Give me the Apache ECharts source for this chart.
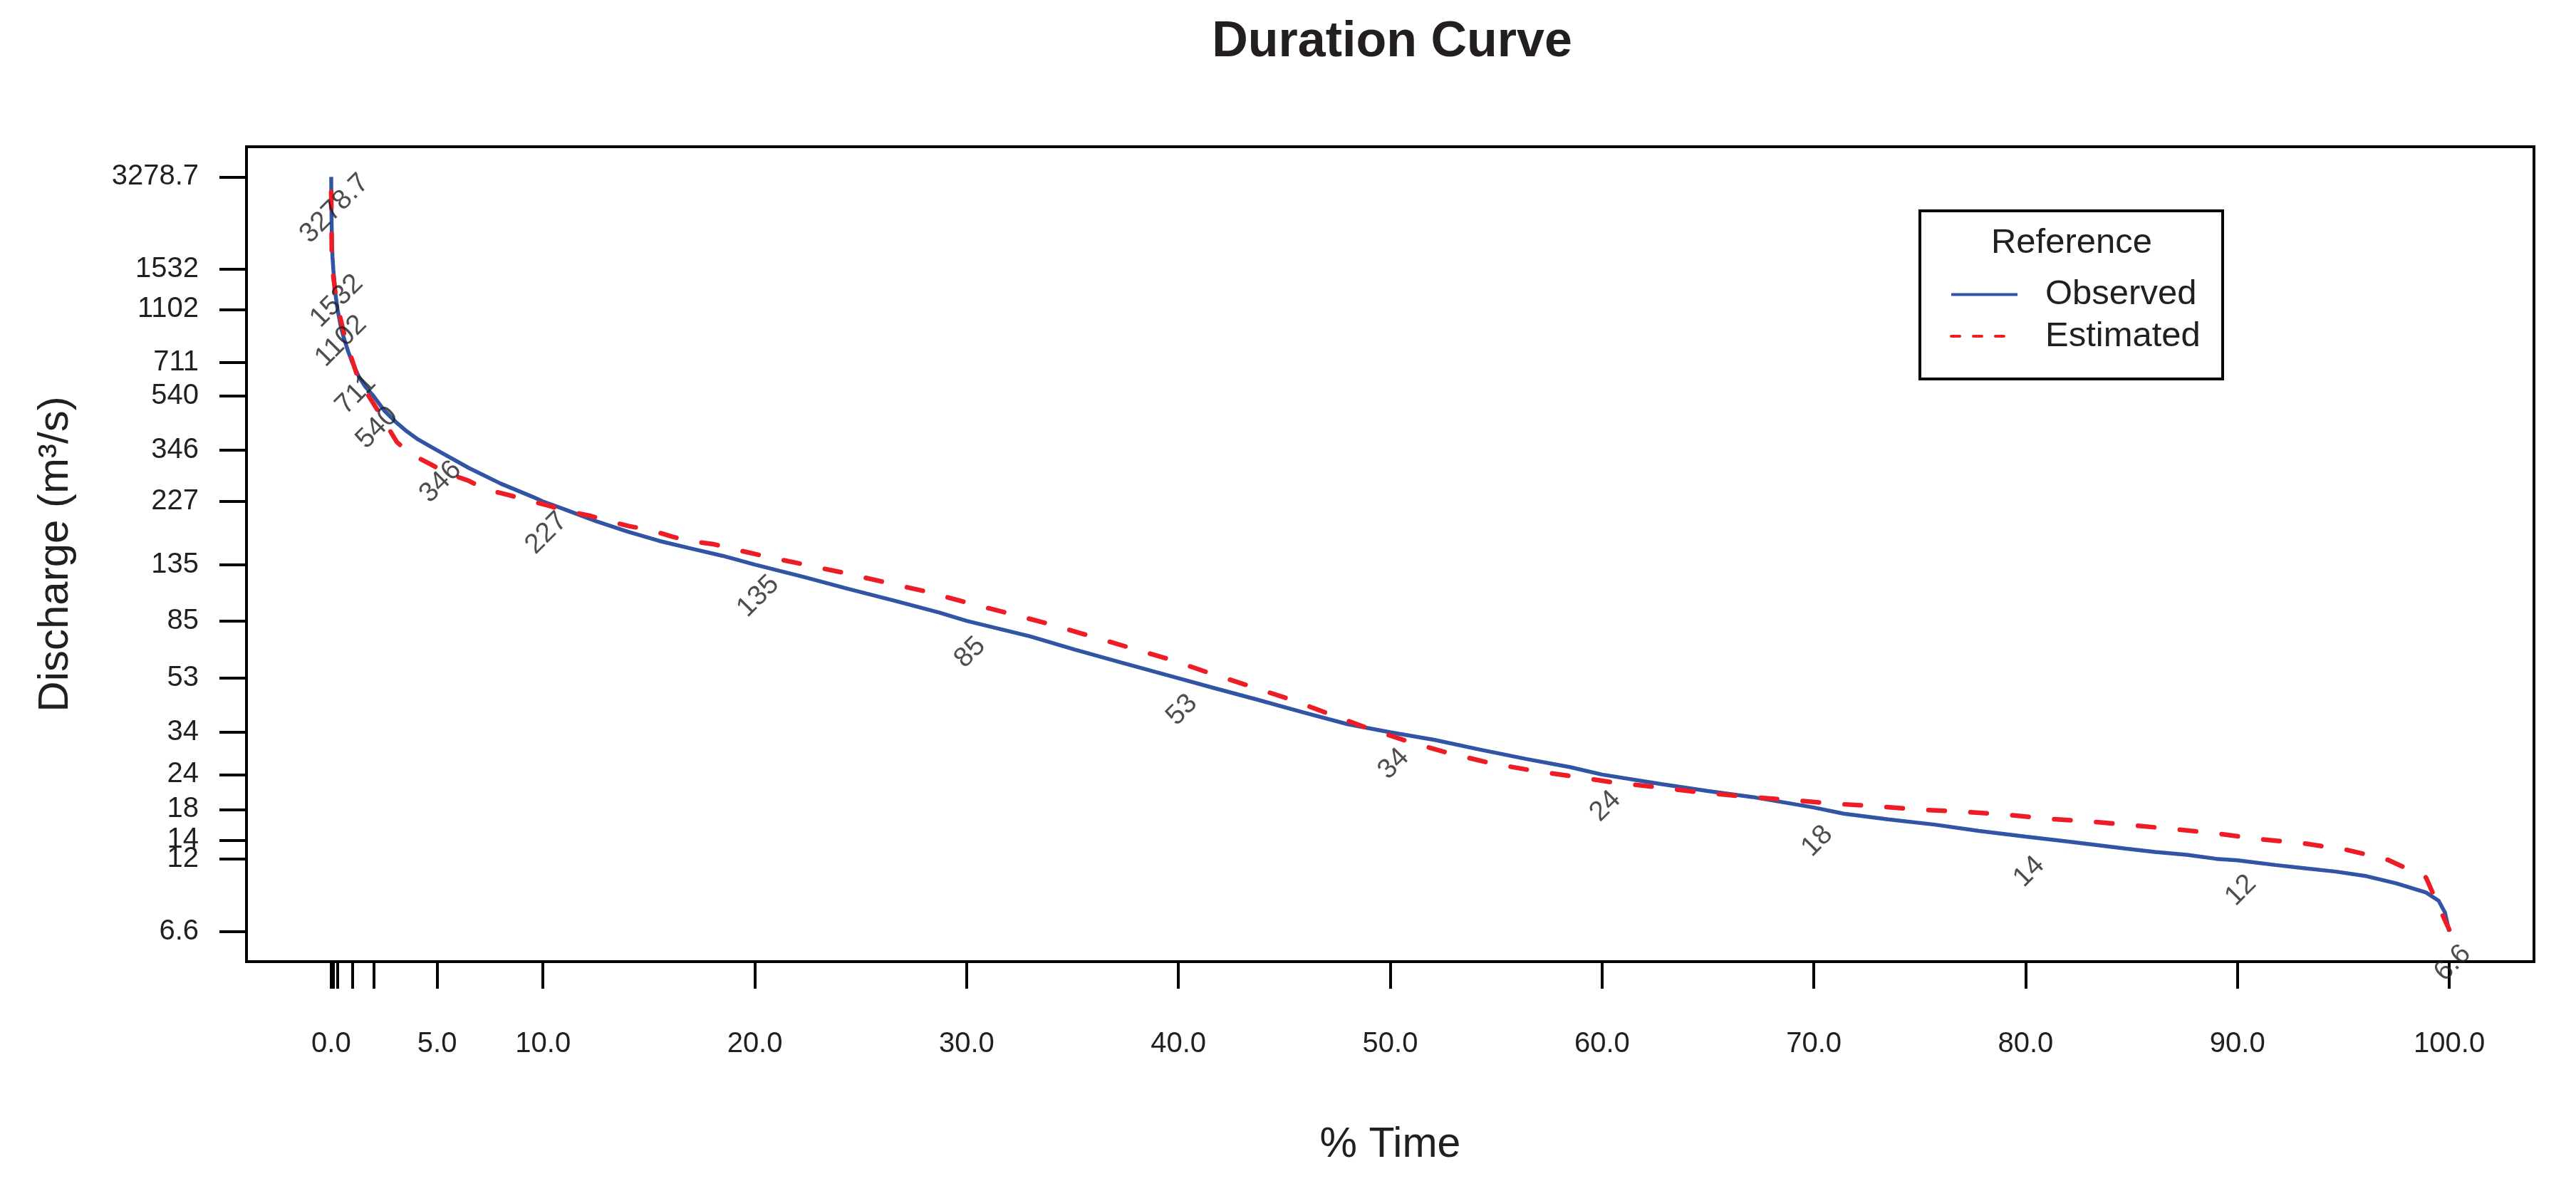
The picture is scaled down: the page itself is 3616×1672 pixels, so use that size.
<!DOCTYPE html>
<html><head><meta charset="utf-8">
<script src="https://cdn.jsdelivr.net/npm/echarts@6/dist/echarts.min.js"></script>
<style>html,body{margin:0;padding:0;background:#fff}#c{width:3616px;height:1672px}</style>
</head><body><div id="c"></div>
<script>
// Observed duration curve (% time, discharge m3/s)
const obsPct = [0, 0.01, 0.03, 0.06, 0.1, 0.2, 0.3, 0.45, 0.6, 0.8, 1, 1.3, 1.6, 2, 2.5, 3, 3.5, 4.1, 5, 6.5, 8, 9.5, 10, 11, 12.5, 14, 15.5, 17, 18.5, 20, 22.3, 24.4, 26.6, 28.7, 30, 33, 35.1, 37.3, 40, 41.6, 43.7, 45.9, 48, 50, 52.1, 54.2, 56.4, 58.5, 60, 62.8, 65, 67.1, 70, 71.4, 73.5, 75.7, 77.8, 80, 82.1, 84.7, 86.1, 87.6, 89, 90, 91.8, 93.2, 94.65, 96.1, 97.5, 98.9, 99.5, 99.8, 100];
const obsQ = [3278.7, 2600, 1950, 1700, 1532, 1250, 1102, 960, 870, 780, 711, 635, 585, 540, 480, 440, 408, 378, 346, 299, 263, 236, 227, 213, 193, 177, 164, 154, 145, 135, 122, 110.6, 100.3, 91, 85, 74.8, 67.1, 60.3, 53, 49.1, 44.5, 40, 36.3, 34, 31.9, 29.5, 27.3, 25.5, 24, 22.2, 20.96, 19.95, 18.3, 17.4, 16.6, 15.9, 15.1, 14.4, 13.8, 13.05, 12.7, 12.4, 12.0, 11.85, 11.4, 11.1, 10.8, 10.4, 9.8, 9.1, 8.5, 7.7, 6.6];
// Estimated duration curve
const estPct = [0, 0.03, 0.1, 0.25, 0.7, 1.3, 2.2, 3.1, 3.7, 4.7, 5.4, 6.5, 7.2, 8.4, 9.2, 10.2, 11.1, 12.2, 13, 14.1, 15, 16.1, 16.9, 18, 18.9, 20.4, 22.4, 24.35, 26.3, 28.2, 30.1, 32.1, 34, 35.9, 37.8, 39.7, 41.5, 43.4, 45.3, 47.2, 49, 50.8, 52.7, 54.7, 56.7, 58.7, 60.7, 62.7, 64.7, 66.8, 68.8, 70.9, 72.9, 74.9, 76.9, 78.9, 81, 83.1, 85.1, 87.1, 89.1, 91.1, 93.2, 95.2, 97.1, 98.9, 99.6, 100];
const estQ = [2900, 1700, 1450, 1170, 845, 616, 480, 370, 337, 308, 288, 269, 252, 239, 230, 220, 210, 202, 194, 185, 180, 170, 164, 160, 154, 145, 134.8, 125.5, 116, 107.7, 98.3, 90, 82.4, 74.8, 67.8, 61.5, 55.2, 49.6, 44.5, 39.3, 35, 31.6, 28.7, 26.4, 24.8, 23.6, 22.4, 21.6, 20.7, 20, 19.5, 18.9, 18.5, 18, 17.7, 17.3, 16.7, 16.3, 15.8, 15.3, 14.75, 14.1, 13.6, 12.9, 11.9, 10.3, 7.8, 6.7];
// Axis ticks / labelled quantiles
const tickPct = [0, 0.1, 0.3, 1, 2, 5, 10, 20, 30, 40, 50, 60, 70, 80, 90, 100];
const xLabelPct = [0, 5, 10, 20, 30, 40, 50, 60, 70, 80, 90, 100];
const qTicks = [3278.7, 1532, 1102, 711, 540, 346, 227, 135, 85, 53, 34, 24, 18, 14, 12, 6.6];
const qTickLabels = ['3278.7', '1532', '1102', '711', '540', '346', '227', '135', '85', '53', '34', '24', '18', '14', '12', '6.6'];

const FONT = '"Liberation Sans", Arial, Helvetica, sans-serif';
const INK = '#231f20';
const zip = (a, b) => a.map((v, i) => [v, b[i]]);
function qLabel(v) {
  let best = 0, bd = Infinity;
  qTicks.forEach((t, i) => { const d = Math.abs(Math.log(t) - Math.log(v)); if (d < bd) { bd = d; best = i; } });
  return qTickLabels[best];
}

const chart = echarts.init(document.getElementById('c'), null, { renderer: 'canvas' });
chart.setOption({
  animation: false,
  backgroundColor: '#ffffff',
  title: [
    { text: 'Duration Curve', left: 1954, top: 25, textAlign: 'center', padding: 0,
      textStyle: { fontFamily: FONT, fontSize: 70, fontWeight: 'bold', color: INK } },
    { text: 'Reference', left: 2908, top: 317, textAlign: 'center', padding: 0,
      textStyle: { fontFamily: FONT, fontSize: 49, fontWeight: 'normal', color: INK } }
  ],
  legend: {
    orient: 'vertical', left: 2737, top: 389, padding: 0,
    itemWidth: 93, itemHeight: 14, itemGap: 9.5,
    textStyle: { fontFamily: FONT, fontSize: 49, color: INK, padding: [0, 0, 0, 34] },
    data: [
      { name: 'Observed', itemStyle: { opacity: 0 }, lineStyle: { width: 4, type: 'solid', color: '#3154a5' } },
      { name: 'Estimated', itemStyle: { opacity: 0 }, lineStyle: { width: 4, type: [12, 19], cap: 'round', color: '#ee1c25' } }
    ]
  },
  graphic: [
    { type: 'rect', shape: { x: 2695, y: 296, width: 425, height: 236 },
      style: { fill: 'none', stroke: '#000', lineWidth: 4 }, z: 10 }
  ],
  grid: { left: 346, right: 59, top: 206, bottom: 322, show: true, borderColor: '#000', borderWidth: 4,
          backgroundColor: 'transparent', containLabel: false, outerBoundsMode: 'none' },
  xAxis: {
    type: 'value', min: -4, max: 104,
    name: '% Time', nameLocation: 'middle', nameGap: 228,
    nameTextStyle: { fontFamily: FONT, fontSize: 59, color: INK },
    axisLine: { show: false, onZero: false },
    axisTick: { show: true, length: 38, inside: false, customValues: tickPct, lineStyle: { color: '#000', width: 4 } },
    axisLabel: { show: true, margin: 96, customValues: xLabelPct, fontFamily: FONT, fontSize: 40, color: INK,
                 formatter: v => Number(v).toFixed(1) },
    splitLine: { show: false }
  },
  yAxis: {
    type: 'log', logBase: 10, min: 5.149, max: 4203,
    name: 'Discharge (m³/s)', nameLocation: 'middle', nameGap: 238, nameRotate: 90,
    nameTextStyle: { fontFamily: FONT, fontSize: 60, color: INK },
    axisLine: { show: false, onZero: false },
    axisTick: { show: true, length: 38, inside: false, customValues: qTicks, lineStyle: { color: '#000', width: 4 } },
    axisLabel: { show: true, margin: 67, customValues: qTicks, fontFamily: FONT, fontSize: 40, color: INK,
                 formatter: v => qLabel(v) },
    splitLine: { show: false }
  },
  series: [
    { name: 'Observed', type: 'line', data: zip(obsPct, obsQ), symbol: 'none', smooth: false, z: 3,
      lineStyle: { color: '#3154a5', width: 5.5 }, itemStyle: { color: '#3154a5' } },
    { name: 'Estimated', type: 'line', data: zip(estPct, estQ), symbol: 'none', smooth: false, z: 4,
      lineStyle: { color: '#ee1c25', width: 6.5, type: [23, 36], cap: 'round' }, itemStyle: { color: '#ee1c25' } },
    { name: 'quantile labels', type: 'scatter', data: zip(tickPct, qTicks), symbolSize: 0, z: 5, silent: true,
      label: { show: true, position: 'inside', rotate: 45, fontFamily: FONT, fontSize: 39, color: INK,
               formatter: p => qTickLabels[p.dataIndex] },
      labelLayout: { dx: -28, dy: 35 } }
  ]
});
</script></body></html>
